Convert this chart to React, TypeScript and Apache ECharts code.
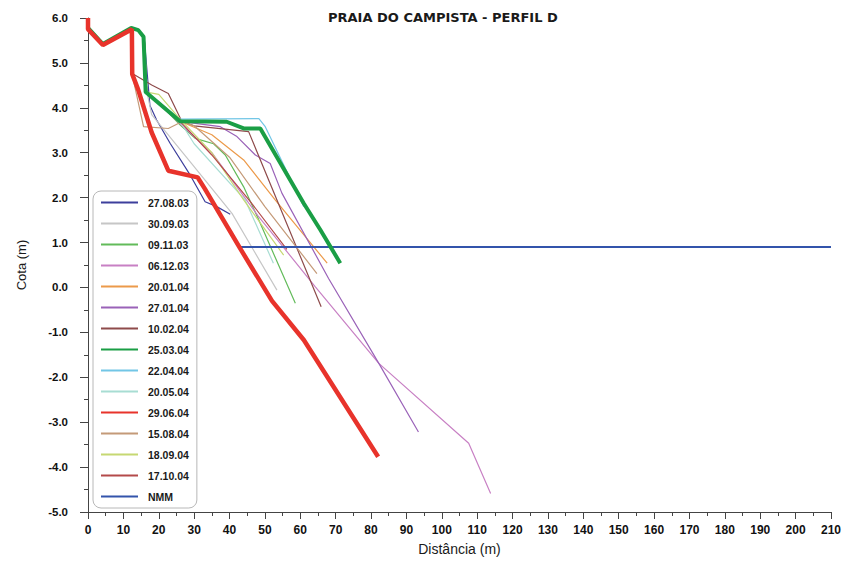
import React, { useEffect, useRef } from "react";
import * as echarts from "echarts";

const TITLE = "PRAIA DO CAMPISTA - PERFIL D";
const X_NAME = "Distância (m)";
const Y_NAME = "Cota (m)";

const d270803 = [[0, 5.78], [4.2, 5.42], [12.2, 5.78], [14.2, 5.72], [15.9, 5.55], [17.5, 4.05], [19.4, 3.73], [23.2, 3.21], [28.9, 2.5], [33.1, 1.91], [36.4, 1.8], [40.2, 1.63]];
const d300903 = [[0, 5.78], [4.2, 5.42], [12.2, 5.78], [14.2, 5.72], [15.9, 5.55], [16.8, 4.3], [18, 3.85], [29.3, 2.76], [40.7, 1.65], [53.4, -0.06]];
const d091103 = [[0, 5.78], [4.2, 5.42], [12.2, 5.78], [14.2, 5.72], [15.9, 5.55], [16.6, 4.35], [22, 3.95], [26, 3.62], [30.3, 3.32], [35.5, 3.2], [38.8, 2.95], [44, 2.24], [48, 1.55], [58.6, -0.35]];
const d061203 = [[0, 5.78], [4.2, 5.42], [12.2, 5.78], [14.2, 5.72], [15.9, 5.55], [16.6, 4.35], [26, 3.65], [35, 3.0], [48, 1.6], [64.2, 0.02], [82.2, -1.69], [107.6, -3.47], [113.8, -4.59]];
const d200104 = [[0, 5.78], [4.2, 5.42], [12.2, 5.78], [14.2, 5.72], [15.9, 5.55], [16.6, 4.35], [22, 4.0], [26, 3.7], [35, 3.4], [44, 2.84], [52.9, 1.95], [67.6, 0.54]];
const d270104 = [[0, 5.78], [4.2, 5.42], [12.2, 5.78], [14.2, 5.72], [15.9, 5.55], [16.6, 4.35], [26, 3.7], [37.4, 3.58], [42.1, 3.36], [47.3, 2.95], [51.5, 2.76], [54.8, 2.1], [68, 0.2], [82.2, -1.69], [93.4, -3.22]];
const d100204 = [[0, 5.78], [4.2, 5.42], [12.2, 5.78], [12.4, 4.77], [18, 4.51], [22.7, 4.32], [26.5, 3.7], [30, 3.6], [45.4, 3.47], [65.9, -0.43]];
const d250304 = [[0, 5.78], [4.2, 5.42], [12.2, 5.78], [14.2, 5.73], [15.7, 5.58], [16.3, 4.35], [26, 3.7], [39.2, 3.69], [44, 3.54], [48.7, 3.54], [61, 1.87], [65.7, 1.28], [71.3, 0.54]];
const d220404 = [[0, 5.78], [4.2, 5.42], [12.2, 5.78], [14.2, 5.73], [15.7, 5.58], [16.3, 4.35], [26, 3.75], [48.3, 3.76], [50.1, 3.58], [61, 1.8]];
const d200504 = [[0, 5.78], [4.2, 5.42], [12.2, 5.78], [14.2, 5.72], [15.9, 5.55], [16.6, 4.35], [22, 3.95], [26, 3.7], [30, 3.2], [44.4, 1.95], [52.4, 0.54]];
const d290604 = [[0, 6.0], [0, 5.75], [4.2, 5.4], [12.4, 5.75], [12.5, 4.75], [14.2, 4.4], [18, 3.45], [22.7, 2.6], [31, 2.45], [33, 2.2], [43, 0.87], [52, -0.3], [61, -1.17], [82, -3.77]];
const d150804 = [[0, 5.78], [4.2, 5.42], [12.2, 5.78], [12.4, 4.77], [15.7, 3.58], [22.7, 3.54], [26.5, 3.69], [30, 3.6], [40, 2.9], [50, 1.8], [64.7, 0.31]];
const d180904 = [[0, 5.78], [4.2, 5.42], [12.2, 5.78], [14.2, 5.72], [15.9, 5.55], [16.6, 4.35], [20, 4.3], [26, 3.75], [35, 3.0], [44, 1.95], [55.3, 0.72]];
const d171004 = [[0, 5.78], [4.2, 5.42], [12.2, 5.78], [14.2, 5.72], [15.9, 5.55], [16.6, 4.35], [26, 3.7], [35, 2.95], [46, 1.9], [56.2, 0.85]];
const nmm = [[43, 0.9], [210, 0.9]];

const SERIES_NAMES = ["27.08.03", "30.09.03", "09.11.03", "06.12.03", "20.01.04", "27.01.04", "10.02.04", "25.03.04", "22.04.04", "20.05.04", "29.06.04", "15.08.04", "18.09.04", "17.10.04", "NMM"];
const SERIES_DATA = [d270803, d300903, d091103, d061203, d200104, d270104, d100204, d250304, d220404, d200504, d290604, d150804, d180904, d171004, nmm];
const COLORS = ["#3d3f9c", "#c6c6c6", "#62bb5a", "#c880c4", "#ec9a4a", "#9a62b8", "#8e4b4b", "#1a9e45", "#72c6e6", "#a8ddd3", "#e8332b", "#c49a78", "#c6d872", "#b44a4a", "#3354ab"];
const WIDTHS = [1.2, 1.2, 1.2, 1.2, 1.2, 1.2, 1.2, 4, 1.2, 1.2, 4.5, 1.2, 1.2, 1.2, 2];
// drawing order: thin lines first, then NMM, then thick lines
const DRAW_ORDER = [0, 1, 2, 3, 4, 5, 6, 8, 9, 11, 12, 13, 14, 7, 10];

export default function App() {
  const ref = useRef<HTMLDivElement>(null);
  useEffect(() => {
    document.body.style.margin = "0";
    const chart = echarts.init(ref.current!, null, { renderer: "svg" });
    const series = DRAW_ORDER.map((i) => ({
      name: SERIES_NAMES[i],
      type: "line",
      data: SERIES_DATA[i],
      symbol: "none",
      showSymbol: false,
      color: COLORS[i],
      lineStyle: { color: COLORS[i], width: WIDTHS[i] },
      z: 2,
    }));
    chart.setOption({
      animation: false,
      backgroundColor: "#ffffff",
      title: {
        text: TITLE,
        left: 323,
        top: 6,
        textStyle: { fontFamily: "DejaVu Sans", fontWeight: "bold", fontSize: 13, color: "#1a1a1a" },
      },
      grid: { left: 88, right: 13, top: 18, bottom: 49 },
      legend: {
        data: SERIES_NAMES,
        orient: "vertical",
        left: 93,
        top: 191,
        itemWidth: 37,
        itemHeight: 10,
        itemGap: 10,
        padding: [6, 8, 6, 7],
        backgroundColor: "#ffffff",
        borderColor: "#b8b8b8",
        borderWidth: 1,
        borderRadius: 8,
        itemStyle: { opacity: 0 },
        textStyle: { fontFamily: "Liberation Sans", fontWeight: "bold", fontSize: 10.5, color: "#1a1a1a", padding: [0, 0, 0, 5] },
      },
      xAxis: {
        type: "value",
        min: 0,
        max: 210,
        interval: 10,
        name: X_NAME,
        nameLocation: "middle",
        nameGap: 30,
        nameTextStyle: { fontFamily: "Liberation Sans Narrow, Liberation Sans", fontSize: 14, color: "#1a1a1a" },
        axisLine: { onZero: false, lineStyle: { color: "#444", width: 1 } },
        axisTick: { length: 7, lineStyle: { color: "#444" } },
        minorTick: { show: true, splitNumber: 2, length: 4, lineStyle: { color: "#444" } },
        splitLine: { show: false },
        axisLabel: { margin: 12, fontFamily: "Liberation Sans Narrow, Liberation Sans", fontWeight: "bold", fontSize: 12, color: "#111" },
      },
      yAxis: {
        type: "value",
        min: -5,
        max: 6,
        interval: 1,
        name: Y_NAME,
        nameLocation: "middle",
        nameGap: 60,
        nameRotate: 90,
        nameTextStyle: { fontFamily: "Liberation Sans", fontSize: 13, color: "#1a1a1a" },
        axisLine: { show: true, lineStyle: { color: "#444", width: 1 } },
        axisTick: { show: true, length: 8, lineStyle: { color: "#444" } },
        minorTick: { show: true, splitNumber: 2, length: 4, lineStyle: { color: "#444" } },
        splitLine: { show: false },
        axisLabel: {
          margin: 20,
          fontFamily: "Liberation Sans",
          fontWeight: "bold",
          fontSize: 11.5,
          color: "#111",
          formatter: (v: number) => v.toFixed(1),
        },
      },
      series,
    });
    return () => chart.dispose();
  }, []);
  return <div ref={ref} style={{ position: "fixed", left: 0, top: 0, width: 844, height: 561 }} />;
}
